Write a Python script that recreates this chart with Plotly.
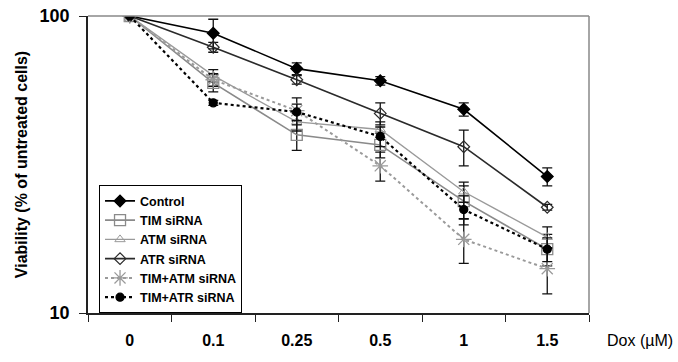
import plotly.graph_objects as go

doses = ["0", "0.1", "0.25", "0.5", "1", "1.5"]

control = [100, 87.5, 66.5, 60.5, 48.5, 28.8]
control_err = [0, 10, 3, 2, 2.5, 2]
tim = [100, 59.5, 39.8, 36.8, 23.8, 16.4]
tim_err = [0, 4, 4.5, 3.5, 3, 2]
atm = [100, 63, 44, 41.5, 25.6, 18]
atm_err = [0, 3, 3, 2.5, 2, 1.5]
atr = [100, 78.5, 61, 47, 36.3, 22.7]
atr_err = [0, 3, 2, 4, 5, 0.5]
tim_atm = [100, 61, 48, 31.3, 17.7, 14.1]
tim_atm_err = [0, 3, 5, 3.5, 3, 2.5]
tim_atr = [100, 51, 47.5, 39.3, 22.3, 16.4]
tim_atr_err = [0, 1, 3, 3, 2.5, 1.5]

series = [
    ("Control", control, control_err, "#000000", "solid", 1.6, "diamond", 9, "#000000", 1.3),
    ("TIM siRNA", tim, tim_err, "#8a8a8a", "solid", 1.6, "square-open", 11, "#8a8a8a", 1.3),
    ("ATM siRNA", atm, atm_err, "#9a9a9a", "solid", 1.4, "triangle-up-open", 9, "#9a9a9a", 1.0),
    ("ATR siRNA", atr, atr_err, "#2a2a2a", "solid", 1.6, "diamond-open", 9, "#2a2a2a", 1.2),
    ("TIM+ATM siRNA", tim_atm, tim_atm_err, "#9a9a9a", "dot", 2, "asterisk-open", 13, "#9a9a9a", 1.3),
    ("TIM+ATR siRNA", tim_atr, tim_atr_err, "#000000", "dot", 2.2, "circle", 8, "#000000", 1.3),
]

fig = go.Figure()
for name, vals, err, col, dash, lw, sym, sz, mcol, mlw in series:
    fig.add_trace(go.Scatter(
        x=doses, y=vals, name=name, mode="lines+markers",
        line=dict(color=col, dash=dash, width=lw),
        marker=dict(symbol=sym, size=sz, color=mcol, line=dict(color=mcol, width=mlw)),
        error_y=dict(type="data", array=err, visible=True, color="#111111", thickness=1.3, width=5),
    ))

font_family = "Arial, Liberation Sans, sans-serif"

fig.update_layout(
    width=678, height=362,
    margin=dict(l=88, r=89, t=16, b=49),
    paper_bgcolor="white", plot_bgcolor="white",
    font=dict(family=font_family, color="black"),
    showlegend=True,
    legend=dict(
        x=0.022, y=0.43, xanchor="left", yanchor="top",
        bordercolor="black", borderwidth=1, bgcolor="white",
        font=dict(size=12.5, family=font_family, color="black", weight="bold"),
        tracegroupgap=0, itemwidth=30,
    ),
    xaxis=dict(
        type="category", range=[-0.5, 5.5], automargin=False,
        showline=True, linecolor="#222222", linewidth=1.5,
        ticks="outside", ticklen=7, tickcolor="#222222", tickson="boundaries",
        tickfont=dict(size=16, weight="bold"),
        ticklabelstandoff=12,
        showgrid=False, zeroline=False,
    ),
    yaxis=dict(
        type="log", range=[1, 2], automargin=False,
        tickvals=[10, 100], ticktext=["10", "100"],
        showline=True, linecolor="#222222", linewidth=1.5,
        ticks="outside", ticklen=7, tickcolor="#222222",
        tickfont=dict(size=18, weight="bold"),
        ticklabelstandoff=6,
        showgrid=False, zeroline=False,
        title=dict(text="Viability (% of untreated cells)", font=dict(size=16, weight="bold"), standoff=8),
    ),
    shapes=[
        dict(type="line", xref="x domain", yref="y domain", x0=0, x1=1, y0=1, y1=1,
             line=dict(color="#888888", width=1.5)),
        dict(type="line", xref="x domain", yref="y domain", x0=1, x1=1, y0=0, y1=1,
             line=dict(color="#888888", width=1.5)),
    ],
    annotations=[
        dict(text="Dox (µM)", xref="paper", yref="paper", x=1.0, y=-0.091,
             xanchor="right", yanchor="middle", xshift=86, showarrow=False,
             font=dict(size=16, family=font_family, color="black")),
    ],
)

# remove the browser's default 8px page margin so the figure sits at the window's corner
fig.write_html("out.html", config={"displayModeBar": False},
               post_script="document.body.style.margin='0px';")
